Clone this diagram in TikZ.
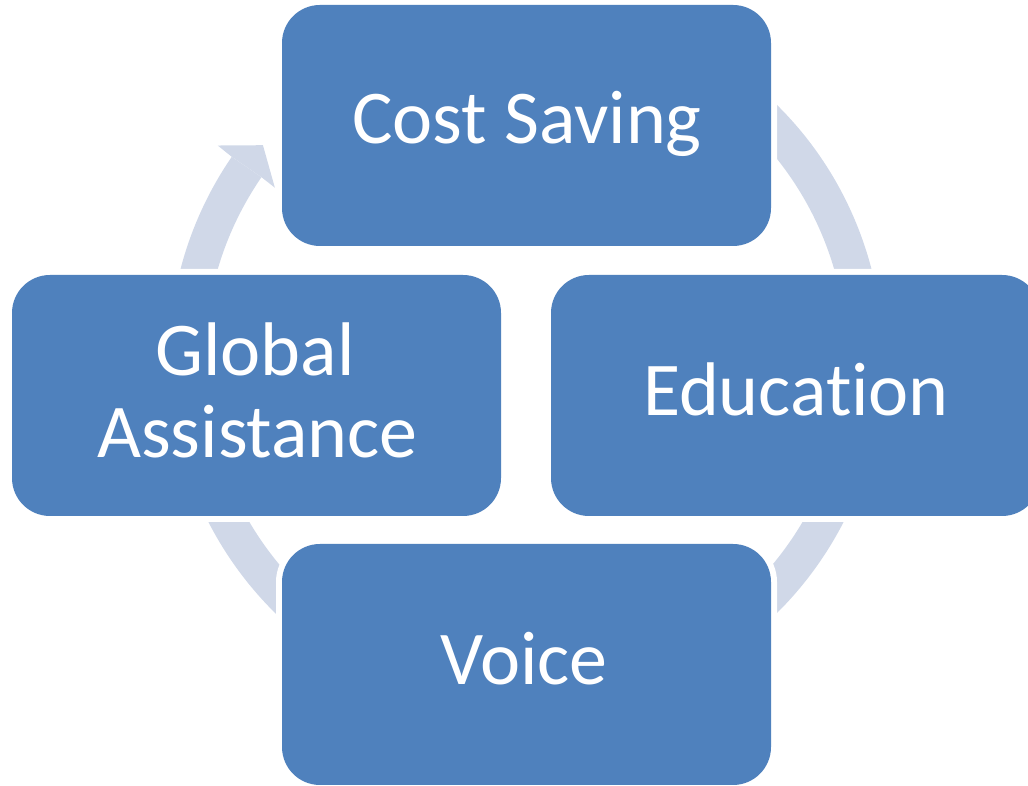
\documentclass[tikz,border=0pt]{standalone}
\usepackage{fontspec}
\setmainfont{Carlito}[Ligatures=NoCommon]
\definecolor{boxblue}{HTML}{4F81BD}
\definecolor{ringc}{HTML}{D0D8E8}
\begin{document}
\begin{tikzpicture}[x=1pt,y=1pt,
  box/.style={rectangle, rounded corners=38pt, fill=boxblue,
    preaction={draw=white,line width=12pt},
    minimum width=489pt, minimum height=241pt, inner sep=0pt},
  lbl/.style={text=white, font=\fontsize{76}{82}\selectfont, anchor=base, inner sep=0pt}]
\useasboundingbox (0,0) rectangle (1028,786);
% circular arrow behind the boxes
\begin{scope}[shift={(526,427)}]
  \fill[ringc] (60:357) arc[start angle=60,end angle=-214.5,radius=357]
    -- (-214.5:321) arc[start angle=-214.5,end angle=60,radius=321] -- cycle;
  \fill[ringc] (145.5:357) -- (145.3:375) -- (140.9:339) -- (145.7:304) -- (145.5:321) -- cycle;
\end{scope}
% boxes
\node[box] (cost)  at (526.5,660.5) {};
\node[box] (edu)   at (795.5,390.5) {};
\node[box] (glob)  at (256.5,390.5) {};
\node[box] (voice) at (526.5,121.5) {};
% labels
\node[lbl] (tcost)  at (527,642)   {Cost Saving};
\node[lbl] (tedu)   at (796,370)   {Educat\kern0pt ion};
\node[lbl] (tvoice) at (524,101)   {Voice};
\node[lbl] (tglob)  at (255,410)   {Global};
\node[lbl] (tass)   at (257.5,328) {Assistance};
\end{tikzpicture}
\end{document}
